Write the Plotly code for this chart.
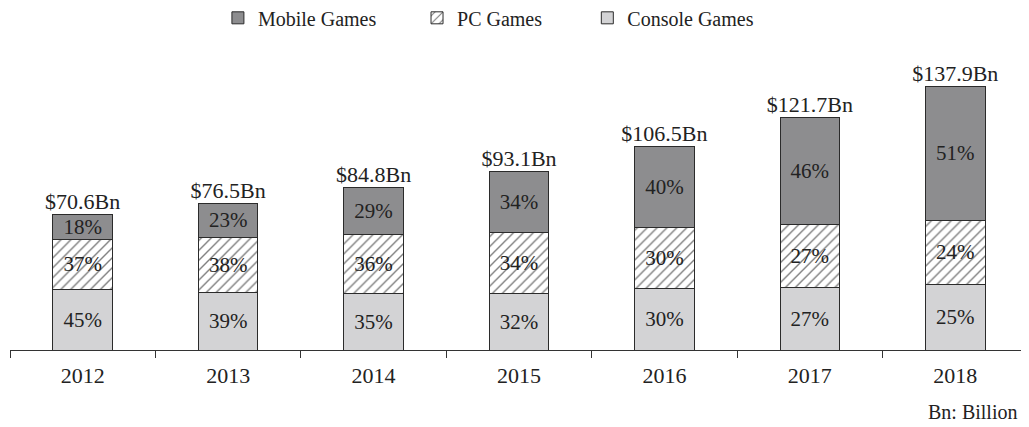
import plotly.graph_objects as go

years = ["2012", "2013", "2014", "2015", "2016", "2017", "2018"]
totals = [70.6, 76.5, 84.8, 93.1, 106.5, 121.7, 137.9]
console_pct = [45, 39, 35, 32, 30, 27, 25]
pc_pct = [37, 38, 36, 34, 30, 27, 24]
mobile_pct = [18, 23, 29, 34, 40, 46, 51]

FONT = "Liberation Serif"
EDGE = "#2b2b2b"
# the page body adds an 8px margin, so margins below are shifted by -8px


def seg(pct):
    return [t * p / 100 for t, p in zip(totals, pct)]


fig = go.Figure()
series = [
    ("Console Games", console_pct, dict(color="#d3d3d5"), "legend3"),
    ("PC Games", pc_pct, dict(color="white", pattern=dict(shape="/", fgcolor="#000", bgcolor="white",
                                                              size=7, solidity=0.2)), "legend2"),
    ("Mobile Games", mobile_pct, dict(color="#8d8d8f"), "legend"),
]
for name, pct, mk, lg in series:
    fig.add_trace(go.Bar(
        x=years, y=seg(pct), name=name, legend=lg,
        marker=dict(line=dict(color=EDGE, width=1), **mk),
        width=0.41,
        text=[f"{p}%" for p in pct], textposition="inside", insidetextanchor="middle",
        textangle=0, constraintext="none",
        textfont=dict(family=FONT, size=21, color="#222"),
    ))

fig.add_trace(go.Scatter(
    x=years, y=totals, mode="text", text=[f"${t}Bn" for t in totals],
    textposition="top center", showlegend=False, hoverinfo="skip",
    textfont=dict(family=FONT, size=22, color="#222"),
))

leg = dict(orientation="h", yanchor="middle", xanchor="left", yref="container", xref="container",
           font=dict(family=FONT, size=20, color="#222"), bgcolor="rgba(0,0,0,0)",
           itemwidth=30)
fig.update_layout(
    barmode="stack",
    width=1029, height=427,
    margin=dict(l=2, r=9, t=55, b=85),
    paper_bgcolor="white", plot_bgcolor="white",
    font=dict(family=FONT, color="#222"),
    legend=dict(leg, x=0.204, y=0.977),
    legend2=dict(leg, x=0.3975, y=0.977),
    legend3=dict(leg, x=0.563, y=0.977),
    xaxis=dict(showline=True, linecolor="#333", linewidth=1, ticks="outside", tickson="boundaries",
               ticklen=7, tickcolor="#333", tickfont=dict(family=FONT, size=22, color="#222"),
               ticklabelstandoff=6, showgrid=False),
    yaxis=dict(range=[0, 150], visible=False, showgrid=False),
    annotations=[dict(text="Bn: Billion", xref="paper", yref="paper", x=0.991, y=-0.215,
                      xanchor="right", yanchor="middle", showarrow=False,
                      font=dict(family=FONT, size=20, color="#222"))],
)

fig.write_html("out.html")
